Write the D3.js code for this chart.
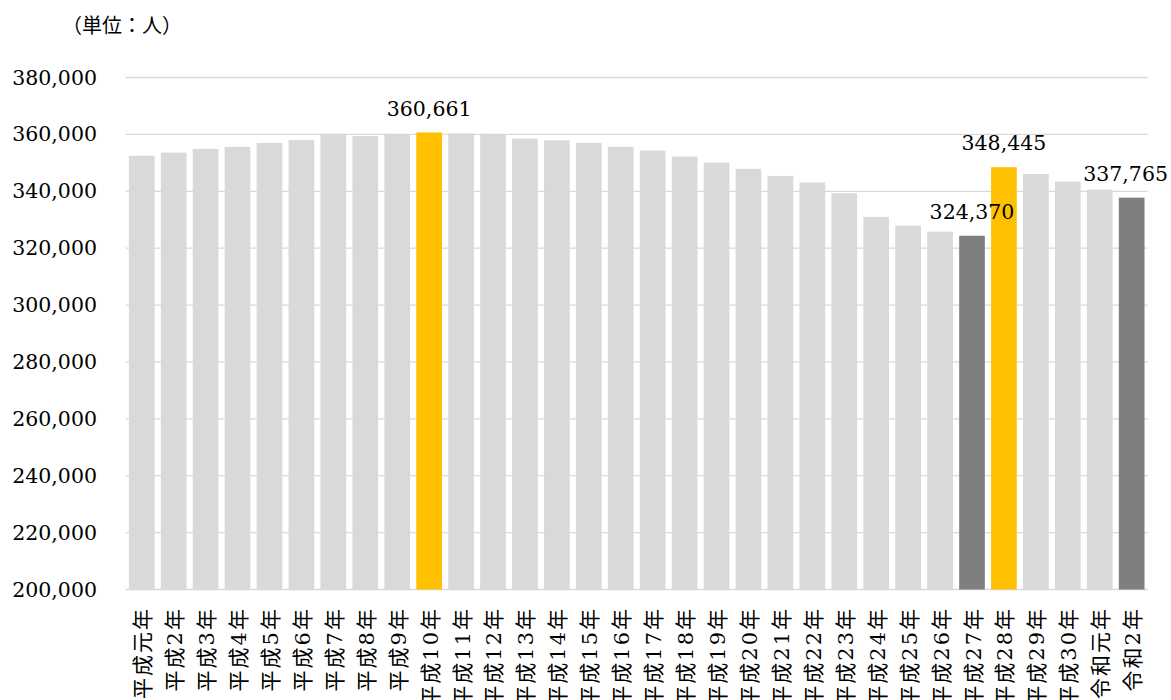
<!DOCTYPE html>
<html lang="ja">
<head>
<meta charset="utf-8">
<script src="https://cdn.jsdelivr.net/npm/d3@7"></script>
<style>
  html, body { margin: 0; padding: 0; background: #fff; }
  svg { display: block; }
  text { font-family: "DejaVu Serif", "Noto Sans CJK JP", serif; fill: #000; }
</style>
</head>
<body>
<svg id="chart" width="1171" height="700"></svg>
<script>
// 年別の人数
const years = [
  "平成元年", "平成2年", "平成3年", "平成4年", "平成5年", "平成6年", "平成7年", "平成8年",
  "平成9年", "平成10年", "平成11年", "平成12年", "平成13年", "平成14年", "平成15年", "平成16年",
  "平成17年", "平成18年", "平成19年", "平成20年", "平成21年", "平成22年", "平成23年", "平成24年",
  "平成25年", "平成26年", "平成27年", "平成28年", "平成29年", "平成30年", "令和元年", "令和2年"
];
const people = [
  352500, 353600, 354900, 355600, 357000, 358000, 360200, 359400,
  360100, 360661, 360350, 359900, 358500, 357900, 357000, 355600,
  354300, 352200, 350100, 347900, 345400, 343100, 339300, 331000,
  327900, 325800, 324370, 348445, 346100, 343400, 340600, 337765
];
const peakYears = ["平成10年", "平成28年"];
const lowYears = ["平成27年", "令和2年"];
const labeledYears = ["平成10年", "平成27年", "平成28年", "令和2年"];
const yTicks = [200000, 220000, 240000, 260000, 280000, 300000, 320000, 340000, 360000, 380000];

const svg = d3.select("#chart");
const plotLeft = 125.7, plotRight = 1147.7, plotTop = 77.5, plotBottom = 589.5;

const x = d3.scaleBand().domain(years).range([plotLeft, plotRight]).paddingInner(0.196).paddingOuter(0.1);
const y = d3.scaleLinear().domain([200000, 380000]).range([plotBottom, plotTop]);

const fmt = d3.format(",");

// 単位
svg.append("text").attr("x", 62).attr("y", 32.5)
  .attr("font-size", 20).attr("font-family", "'Noto Sans CJK JP', sans-serif")
  .text("（単位：人）");

// 目盛線
svg.append("g").selectAll("line").data(yTicks).join("line")
  .attr("x1", plotLeft).attr("x2", plotRight)
  .attr("y1", d => y(d)).attr("y2", d => y(d))
  .attr("stroke", "#d9d9d9").attr("stroke-width", 1.3);

// 縦軸
const yAxis = d3.axisLeft(y).tickValues(yTicks).tickFormat(fmt).tickSize(0).tickPadding(0);
const gy = svg.append("g").attr("transform", "translate(97,0)").call(yAxis);
gy.select(".domain").remove();
gy.selectAll("text").attr("font-size", 20.5)
  .attr("font-family", "'DejaVu Serif', serif").attr("fill", "#000");

// 棒
const color = d => peakYears.includes(d) ? "#ffc000" : lowYears.includes(d) ? "#7f7f7f" : "#d9d9d9";
svg.append("g").selectAll("rect").data(years).join("rect")
  .attr("x", d => x(d))
  .attr("width", x.bandwidth())
  .attr("y", (d, i) => y(people[i]))
  .attr("height", (d, i) => y(200000) - y(people[i]))
  .attr("fill", d => color(d));

// 横軸ラベル（回転）
const xAxis = d3.axisBottom(x).tickSize(0).tickPadding(0);
const gx = svg.append("g").attr("transform", `translate(0,${plotBottom})`).call(xAxis);
gx.select(".domain").remove();
gx.selectAll("text")
  .attr("font-size", 21)
  .attr("letter-spacing", 2)
  .attr("font-family", "'DejaVu Serif', 'Noto Sans CJK JP', serif")
  .attr("fill", "#000")
  .attr("text-anchor", "end")
  .attr("dy", null)
  .attr("transform", "translate(8.5,17.5) rotate(-90)");

// 値ラベル
const labels = svg.append("g").selectAll("text")
  .data(years.map((d, i) => ({ year: d, value: people[i] })).filter(d => labeledYears.includes(d.year)))
  .join("text")
  .attr("font-size", 20.5)
  .attr("text-anchor", "middle")
  .attr("x", d => x(d.year) + x.bandwidth() / 2)
  .attr("y", d => y(d.value) - 17)
  .text(d => fmt(d.value));
labels.each(function () {
  const b = this.getBBox();
  if (b.x + b.width > 1168) {
    d3.select(this).attr("x", +d3.select(this).attr("x") - (b.x + b.width - 1168));
  }
});
</script>
</body>
</html>
